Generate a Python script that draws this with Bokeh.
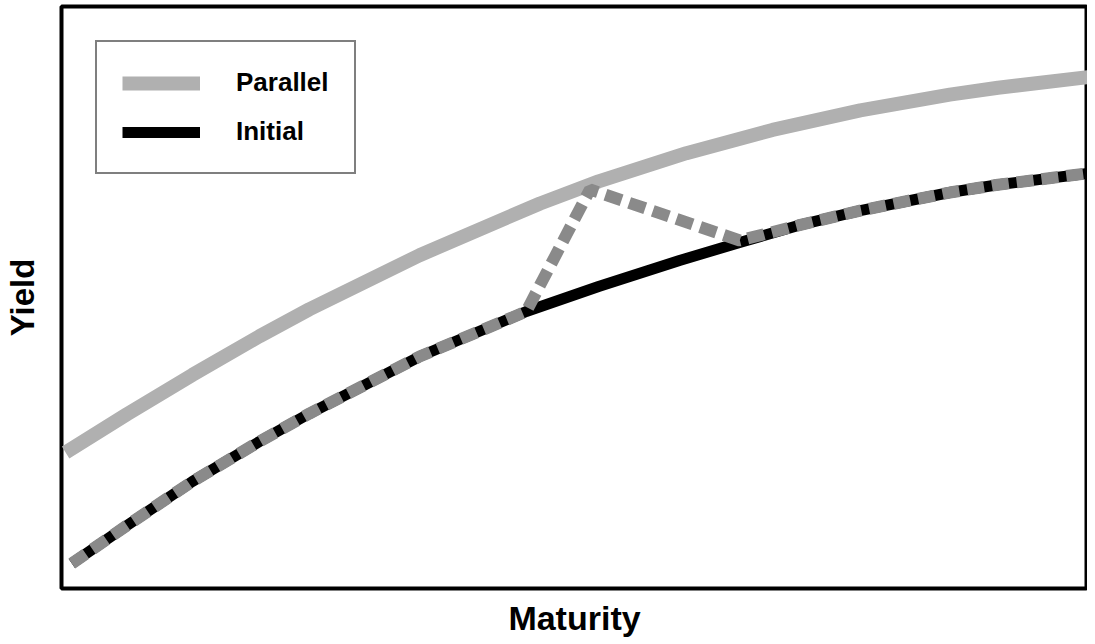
from bokeh.plotting import figure
from bokeh.models import Range1d, FixedTicker
from bokeh.embed import file_html
from bokeh.resources import INLINE

# Data (maturity in years, yield in %)
initial_maturity = [0.3, 1.9, 3.8, 5.75, 7.2, 10.4, 13.5, 15.6, 17.95, 19.7, 21.4, 23.2, 25.8, 27.2, 30.0]
initial_yield = [3.215, 3.541, 3.919, 4.263, 4.503, 4.993, 5.380, 5.594, 5.818, 5.973, 6.119, 6.247, 6.402, 6.469, 6.574]

parallel_maturity = [0.12, 1.9, 3.8, 5.75, 7.2, 10.4, 13.9, 15.6, 18.15, 20.65, 23.2, 25.8, 27.2, 30.0]
parallel_yield = [4.168, 4.497, 4.835, 5.167, 5.399, 5.863, 6.308, 6.498, 6.740, 6.940, 7.108, 7.243, 7.302, 7.400]

shifted_maturity = [0.3, 1.9, 3.8, 5.75, 7.2, 10.4, 13.5, 15.35, 19.7, 21.4, 23.2, 25.8, 27.2, 30.0]
shifted_yield = [3.215, 3.541, 3.919, 4.263, 4.503, 4.993, 5.380, 6.428, 5.990, 6.119, 6.247, 6.402, 6.469, 6.574]

FONT = "Liberation Sans"

p = figure(
    frame_width=1026, frame_height=582,
    x_range=Range1d(0, 29.8), y_range=Range1d(3, 8),
    output_backend="svg", toolbar_location=None,
    min_border_left=58, min_border_right=0, min_border_top=6, min_border_bottom=0,
    background_fill_color="white", border_fill_color="white",
)

p.outline_line_color = "black"
p.outline_line_width = 4
p.xgrid.visible = False
p.ygrid.visible = False

for ax in (p.xaxis[0], p.yaxis[0]):
    ax.ticker = FixedTicker(ticks=[])
    ax.axis_line_color = None
    ax.major_tick_line_color = None
    ax.minor_tick_line_color = None
    ax.major_tick_out = 0
    ax.major_tick_in = 0
    ax.minor_tick_out = 0
    ax.minor_tick_in = 0
    ax.major_label_standoff = 0
    ax.axis_label_text_font = FONT
    ax.axis_label_text_font_style = "bold"
    ax.axis_label_text_color = "black"

p.xaxis.axis_label = "Maturity"
p.yaxis.axis_label = "Yield"
p.xaxis.axis_label_text_font_size = "34px"
p.yaxis.axis_label_text_font_size = "33px"
p.xaxis.axis_label_standoff = 10
p.yaxis.axis_label_standoff = 21

p.line(parallel_maturity, parallel_yield, line_color="#b0b0b0", line_width=14,
       legend_label="Parallel")
p.line(initial_maturity, initial_yield, line_color="black", line_width=11,
       legend_label="Initial")
p.line(shifted_maturity, shifted_yield, line_color="#8a8a8a", line_width=12,
       line_dash="17 8")

lg = p.legend[0]
lg.location = "top_left"
lg.margin = 34
lg.padding = 25
lg.spacing = 18
lg.glyph_width = 78
lg.glyph_height = 26
lg.label_standoff = 36
lg.label_text_font = FONT
lg.label_text_font_style = "bold"
lg.label_text_font_size = "26px"
lg.label_text_color = "black"
lg.border_line_color = "black"
lg.border_line_width = 2
lg.background_fill_color = "white"
lg.background_fill_alpha = 1.0

open("out.html", "w").write(file_html(p, INLINE))
